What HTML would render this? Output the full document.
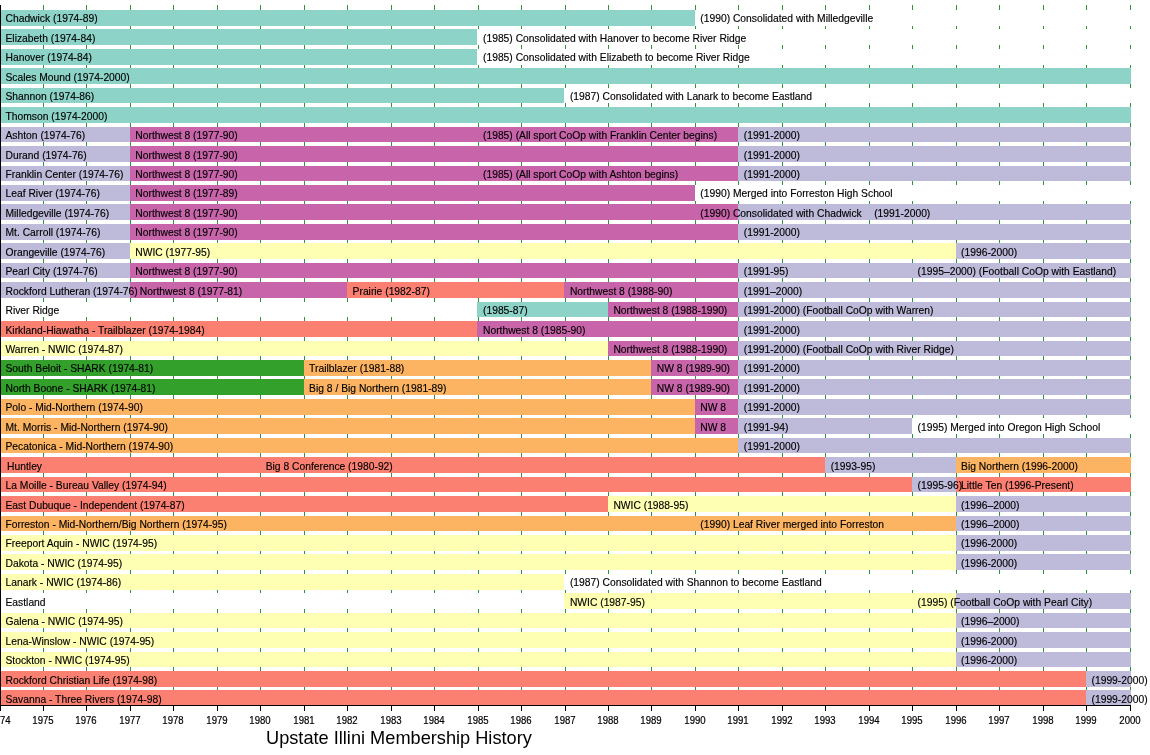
<!DOCTYPE html>
<html lang="en"><head><meta charset="utf-8"><title>Upstate Illini Membership History</title>
<style>
html,body{margin:0;padding:0;background:#fff}
#c{position:relative;width:1150px;height:755px;overflow:hidden;background:#fff;font-family:"Liberation Sans",sans-serif;color:#000}
#c div,#c span{position:absolute}
.g{top:5px;height:700px;width:1px;background:#2a9639}
.r{left:0;width:1131px;height:15.6px;background:#fff}
.b{top:0;height:100%}
.t,.m,.l,.y,.s,.o,.e{}
.t{background:#8dd3c7}.y{background:#ffffb3}.l{background:#bebada}.s{background:#fb8072}.o{background:#fdb462}.e{background:#33a02c}.m{background:#c864aa}
.x{-webkit-text-stroke:0.15px #000;height:15.6px;line-height:16.6px;font-size:10.3px;white-space:pre}
#tx{left:0;top:0;width:1150px;height:755px;will-change:transform}
.k{top:706px;width:1.25px;height:5px;background:#000}
.a{-webkit-text-stroke:0.2px #000;top:714px;width:40px;margin-left:-20px;text-align:center;font-size:10.35px;line-height:14px;transform:scaleX(.925)}
</style></head><body><div id="c">
<div class="g" style="left:43px"></div><div class="g" style="left:86px"></div><div class="g" style="left:130px"></div><div class="g" style="left:173px"></div><div class="g" style="left:217px"></div><div class="g" style="left:260px"></div><div class="g" style="left:304px"></div><div class="g" style="left:347px"></div><div class="g" style="left:391px"></div><div class="g" style="left:434px"></div><div class="g" style="left:478px"></div><div class="g" style="left:521px"></div><div class="g" style="left:565px"></div><div class="g" style="left:608px"></div><div class="g" style="left:651px"></div><div class="g" style="left:695px"></div><div class="g" style="left:738px"></div><div class="g" style="left:782px"></div><div class="g" style="left:825px"></div><div class="g" style="left:869px"></div><div class="g" style="left:912px"></div><div class="g" style="left:956px"></div><div class="g" style="left:999px"></div><div class="g" style="left:1043px"></div><div class="g" style="left:1086px"></div><div class="g" style="left:1130px"></div>
<div class="r" style="top:10.05px"><div class="b t" style="left:0.0px;width:694.7px"></div></div>
<div class="r" style="top:29.49px"><div class="b t" style="left:0.0px;width:477.4px"></div></div>
<div class="r" style="top:48.94px"><div class="b t" style="left:0.0px;width:477.4px"></div></div>
<div class="r" style="top:68.38px"><div class="b t" style="left:0.0px;width:1130.7px"></div></div>
<div class="r" style="top:87.83px"><div class="b t" style="left:0.0px;width:564.3px"></div></div>
<div class="r" style="top:107.27px"><div class="b t" style="left:0.0px;width:1130.7px"></div></div>
<div class="r" style="top:126.71px"><div class="b l" style="left:0.0px;width:130.7px"></div><div class="b m" style="left:129.7px;width:609.5px"></div><div class="b l" style="left:738.2px;width:392.6px"></div></div>
<div class="r" style="top:146.16px"><div class="b l" style="left:0.0px;width:130.7px"></div><div class="b m" style="left:129.7px;width:609.5px"></div><div class="b l" style="left:738.2px;width:392.6px"></div></div>
<div class="r" style="top:165.60px"><div class="b l" style="left:0.0px;width:130.7px"></div><div class="b m" style="left:129.7px;width:609.5px"></div><div class="b l" style="left:738.2px;width:392.6px"></div></div>
<div class="r" style="top:185.05px"><div class="b l" style="left:0.0px;width:130.7px"></div><div class="b m" style="left:129.7px;width:565.0px"></div></div>
<div class="r" style="top:204.49px"><div class="b l" style="left:0.0px;width:130.7px"></div><div class="b m" style="left:129.7px;width:609.5px"></div><div class="b l" style="left:738.2px;width:392.6px"></div></div>
<div class="r" style="top:223.93px"><div class="b l" style="left:0.0px;width:130.7px"></div><div class="b m" style="left:129.7px;width:609.5px"></div><div class="b l" style="left:738.2px;width:392.6px"></div></div>
<div class="r" style="top:243.38px"><div class="b l" style="left:0.0px;width:130.7px"></div><div class="b y" style="left:129.7px;width:826.8px"></div><div class="b l" style="left:955.5px;width:175.3px"></div></div>
<div class="r" style="top:262.82px"><div class="b l" style="left:0.0px;width:130.7px"></div><div class="b m" style="left:129.7px;width:609.5px"></div><div class="b l" style="left:738.2px;width:392.6px"></div></div>
<div class="r" style="top:282.27px"><div class="b l" style="left:0.0px;width:130.7px"></div><div class="b m" style="left:129.7px;width:218.3px"></div><div class="b s" style="left:347.0px;width:218.3px"></div><div class="b m" style="left:564.3px;width:174.9px"></div><div class="b l" style="left:738.2px;width:392.6px"></div></div>
<div class="r" style="top:301.71px"><div class="b t" style="left:477.4px;width:131.4px"></div><div class="b m" style="left:607.8px;width:131.4px"></div><div class="b l" style="left:738.2px;width:392.6px"></div></div>
<div class="r" style="top:321.15px"><div class="b s" style="left:0.0px;width:478.4px"></div><div class="b m" style="left:477.4px;width:261.8px"></div><div class="b l" style="left:738.2px;width:392.6px"></div></div>
<div class="r" style="top:340.60px"><div class="b y" style="left:0.0px;width:608.8px"></div><div class="b m" style="left:607.8px;width:131.4px"></div><div class="b l" style="left:738.2px;width:392.6px"></div></div>
<div class="r" style="top:360.04px"><div class="b e" style="left:0.0px;width:304.5px"></div><div class="b o" style="left:303.5px;width:348.7px"></div><div class="b m" style="left:651.2px;width:87.9px"></div><div class="b l" style="left:738.2px;width:392.6px"></div></div>
<div class="r" style="top:379.49px"><div class="b e" style="left:0.0px;width:304.5px"></div><div class="b o" style="left:303.5px;width:348.7px"></div><div class="b m" style="left:651.2px;width:87.9px"></div><div class="b l" style="left:738.2px;width:392.6px"></div></div>
<div class="r" style="top:398.93px"><div class="b o" style="left:0.0px;width:695.7px"></div><div class="b m" style="left:694.7px;width:44.5px"></div><div class="b l" style="left:738.2px;width:392.6px"></div></div>
<div class="r" style="top:418.37px"><div class="b o" style="left:0.0px;width:695.7px"></div><div class="b m" style="left:694.7px;width:44.5px"></div><div class="b l" style="left:738.2px;width:173.9px"></div></div>
<div class="r" style="top:437.82px"><div class="b o" style="left:0.0px;width:739.2px"></div><div class="b l" style="left:738.2px;width:392.6px"></div></div>
<div class="r" style="top:457.26px"><div class="b s" style="left:0.0px;width:826.1px"></div><div class="b l" style="left:825.1px;width:131.4px"></div><div class="b o" style="left:955.5px;width:175.3px"></div></div>
<div class="r" style="top:476.71px"><div class="b s" style="left:0.0px;width:913.0px"></div><div class="b l" style="left:912.0px;width:44.5px"></div><div class="b s" style="left:955.5px;width:175.3px"></div></div>
<div class="r" style="top:496.15px"><div class="b s" style="left:0.0px;width:608.8px"></div><div class="b y" style="left:607.8px;width:348.7px"></div><div class="b l" style="left:955.5px;width:175.3px"></div></div>
<div class="r" style="top:515.59px"><div class="b o" style="left:0.0px;width:956.5px"></div><div class="b l" style="left:955.5px;width:175.3px"></div></div>
<div class="r" style="top:535.04px"><div class="b y" style="left:0.0px;width:956.5px"></div><div class="b l" style="left:955.5px;width:175.3px"></div></div>
<div class="r" style="top:554.48px"><div class="b y" style="left:0.0px;width:956.5px"></div><div class="b l" style="left:955.5px;width:175.3px"></div></div>
<div class="r" style="top:573.93px"><div class="b y" style="left:0.0px;width:564.3px"></div></div>
<div class="r" style="top:593.37px"><div class="b y" style="left:564.3px;width:392.2px"></div><div class="b l" style="left:955.5px;width:175.3px"></div></div>
<div class="r" style="top:612.81px"><div class="b y" style="left:0.0px;width:956.5px"></div><div class="b l" style="left:955.5px;width:175.3px"></div></div>
<div class="r" style="top:632.26px"><div class="b y" style="left:0.0px;width:956.5px"></div><div class="b l" style="left:955.5px;width:175.3px"></div></div>
<div class="r" style="top:651.70px"><div class="b y" style="left:0.0px;width:956.5px"></div><div class="b l" style="left:955.5px;width:175.3px"></div></div>
<div class="r" style="top:671.15px"><div class="b s" style="left:0.0px;width:1086.9px"></div><div class="b l" style="left:1085.9px;width:44.9px"></div></div>
<div class="r" style="top:690.20px"><div class="b s" style="left:0.0px;width:1086.9px"></div><div class="b l" style="left:1085.9px;width:44.9px"></div></div>
<div style="left:0;top:5px;width:1.2px;height:706px;background:#000"></div><div style="left:0;top:705px;width:1131px;height:1px;background:#000"></div>
<div class="k" style="left:42.9px"></div><div class="k" style="left:85.9px"></div><div class="k" style="left:129.9px"></div><div class="k" style="left:172.9px"></div><div class="k" style="left:216.9px"></div><div class="k" style="left:259.9px"></div><div class="k" style="left:303.9px"></div><div class="k" style="left:346.9px"></div><div class="k" style="left:390.9px"></div><div class="k" style="left:433.9px"></div><div class="k" style="left:477.9px"></div><div class="k" style="left:520.9px"></div><div class="k" style="left:564.9px"></div><div class="k" style="left:607.9px"></div><div class="k" style="left:650.9px"></div><div class="k" style="left:694.9px"></div><div class="k" style="left:737.9px"></div><div class="k" style="left:781.9px"></div><div class="k" style="left:824.9px"></div><div class="k" style="left:868.9px"></div><div class="k" style="left:911.9px"></div><div class="k" style="left:955.9px"></div><div class="k" style="left:998.9px"></div><div class="k" style="left:1042.9px"></div><div class="k" style="left:1085.9px"></div><div class="k" style="left:1129.9px"></div>
<div id="tx">
<span class="x" style="left:5.5px;top:11.4px">Chadwick (1974-89)</span><span class="x" style="left:700.3px;top:11.4px">(1990) Consolidated with Milledgeville</span>
<span class="x" style="left:5.5px;top:31.4px">Elizabeth (1974-84)</span><span class="x" style="left:483.0px;top:31.4px">(1985) Consolidated with Hanover to become River Ridge</span>
<span class="x" style="left:5.5px;top:50.4px">Hanover (1974-84)</span><span class="x" style="left:483.0px;top:50.4px">(1985) Consolidated with Elizabeth to become River Ridge</span>
<span class="x" style="left:5.5px;top:70.4px">Scales Mound (1974-2000)</span>
<span class="x" style="left:5.5px;top:89.4px">Shannon (1974-86)</span><span class="x" style="left:569.9px;top:89.4px">(1987) Consolidated with Lanark to become Eastland</span>
<span class="x" style="left:5.5px;top:109.4px">Thomson (1974-2000)</span>
<span class="x" style="left:5.5px;top:128.4px">Ashton (1974-76)</span><span class="x" style="left:135.3px;top:128.4px">Northwest 8 (1977-90)</span><span class="x" style="left:483.0px;top:128.4px">(1985) (All sport CoOp with Franklin Center begins)</span><span class="x" style="left:743.8px;top:128.4px">(1991-2000)</span>
<span class="x" style="left:5.5px;top:148.4px">Durand (1974-76)</span><span class="x" style="left:135.3px;top:148.4px">Northwest 8 (1977-90)</span><span class="x" style="left:743.8px;top:148.4px">(1991-2000)</span>
<span class="x" style="left:5.5px;top:167.4px">Franklin Center (1974-76)</span><span class="x" style="left:135.3px;top:167.4px">Northwest 8 (1977-90)</span><span class="x" style="left:483.0px;top:167.4px">(1985) (All sport CoOp with Ashton begins)</span><span class="x" style="left:743.8px;top:167.4px">(1991-2000)</span>
<span class="x" style="left:5.5px;top:186.4px">Leaf River (1974-76)</span><span class="x" style="left:135.3px;top:186.4px">Northwest 8 (1977-89)</span><span class="x" style="left:700.3px;top:186.4px">(1990) Merged into Forreston High School</span>
<span class="x" style="left:5.5px;top:206.4px">Milledgeville (1974-76)</span><span class="x" style="left:135.3px;top:206.4px">Northwest 8 (1977-90)</span><span class="x" style="left:700.3px;top:206.4px">(1990) Consolidated with Chadwick</span><span class="x" style="left:874.2px;top:206.4px">(1991-2000)</span>
<span class="x" style="left:5.5px;top:225.4px">Mt. Carroll (1974-76)</span><span class="x" style="left:135.3px;top:225.4px">Northwest 8 (1977-90)</span><span class="x" style="left:743.8px;top:225.4px">(1991-2000)</span>
<span class="x" style="left:5.5px;top:245.4px">Orangeville (1974-76)</span><span class="x" style="left:135.3px;top:245.4px">NWIC (1977-95)</span><span class="x" style="left:961.1px;top:245.4px">(1996-2000)</span>
<span class="x" style="left:5.5px;top:264.4px">Pearl City (1974-76)</span><span class="x" style="left:135.3px;top:264.4px">Northwest 8 (1977-90)</span><span class="x" style="left:743.8px;top:264.4px">(1991-95)</span><span class="x" style="left:917.6px;top:264.4px">(1995–2000) (Football CoOp with Eastland)</span>
<span class="x" style="left:5.5px;top:284.4px">Rockford Lutheran (1974-76)</span><span class="x" style="left:139.8px;top:284.4px">Northwest 8 (1977-81)</span><span class="x" style="left:352.6px;top:284.4px">Prairie (1982-87)</span><span class="x" style="left:569.9px;top:284.4px">Northwest 8 (1988-90)</span><span class="x" style="left:743.8px;top:284.4px">(1991–2000)</span>
<span class="x" style="left:5.5px;top:303.4px">River Ridge</span><span class="x" style="left:483.0px;top:303.4px">(1985-87)</span><span class="x" style="left:613.4px;top:303.4px">Northwest 8 (1988-1990)</span><span class="x" style="left:743.8px;top:303.4px">(1991-2000) (Football CoOp with Warren)</span>
<span class="x" style="left:5.5px;top:323.4px">Kirkland-Hiawatha - Trailblazer (1974-1984)</span><span class="x" style="left:483.0px;top:323.4px">Northwest 8 (1985-90)</span><span class="x" style="left:743.8px;top:323.4px">(1991-2000)</span>
<span class="x" style="left:5.5px;top:342.4px">Warren - NWIC (1974-87)</span><span class="x" style="left:613.4px;top:342.4px">Northwest 8 (1988-1990)</span><span class="x" style="left:743.8px;top:342.4px">(1991-2000) (Football CoOp with River Ridge)</span>
<span class="x" style="left:5.5px;top:361.4px">South Beloit - SHARK (1974-81)</span><span class="x" style="left:309.1px;top:361.4px">Trailblazer (1981-88)</span><span class="x" style="left:656.8px;top:361.4px">NW 8 (1989-90)</span><span class="x" style="left:743.8px;top:361.4px">(1991-2000)</span>
<span class="x" style="left:5.5px;top:381.4px">North Boone - SHARK (1974-81)</span><span class="x" style="left:309.1px;top:381.4px">Big 8 / Big Northern (1981-89)</span><span class="x" style="left:656.8px;top:381.4px">NW 8 (1989-90)</span><span class="x" style="left:743.8px;top:381.4px">(1991-2000)</span>
<span class="x" style="left:5.5px;top:400.4px">Polo - Mid-Northern (1974-90)</span><span class="x" style="left:700.3px;top:400.4px">NW 8</span><span class="x" style="left:743.8px;top:400.4px">(1991-2000)</span>
<span class="x" style="left:5.5px;top:420.4px">Mt. Morris - Mid-Northern (1974-90)</span><span class="x" style="left:700.3px;top:420.4px">NW 8</span><span class="x" style="left:743.8px;top:420.4px">(1991-94)</span><span class="x" style="left:917.6px;top:420.4px">(1995) Merged into Oregon High School</span>
<span class="x" style="left:5.5px;top:439.4px">Pecatonica - Mid-Northern (1974-90)</span><span class="x" style="left:743.8px;top:439.4px">(1991-2000)</span>
<span class="x" style="left:7.1px;top:459.4px">Huntley</span><span class="x" style="left:265.7px;top:459.4px">Big 8 Conference (1980-92)</span><span class="x" style="left:830.7px;top:459.4px">(1993-95)</span><span class="x" style="left:961.1px;top:459.4px">Big Northern (1996-2000)</span>
<span class="x" style="left:5.5px;top:478.4px">La Moille - Bureau Valley (1974-94)</span><span class="x" style="left:917.6px;top:478.4px">(1995-96)</span><span class="x" style="left:961.1px;top:478.4px">Little Ten (1996-Present)</span>
<span class="x" style="left:5.5px;top:498.4px">East Dubuque - Independent (1974-87)</span><span class="x" style="left:613.4px;top:498.4px">NWIC (1988-95)</span><span class="x" style="left:961.1px;top:498.4px">(1996–2000)</span>
<span class="x" style="left:5.5px;top:517.4px">Forreston - Mid-Northern/Big Northern (1974-95)</span><span class="x" style="left:700.3px;top:517.4px">(1990) Leaf River merged into Forreston</span><span class="x" style="left:961.1px;top:517.4px">(1996–2000)</span>
<span class="x" style="left:5.5px;top:536.4px">Freeport Aquin - NWIC (1974-95)</span><span class="x" style="left:961.1px;top:536.4px">(1996-2000)</span>
<span class="x" style="left:5.5px;top:556.4px">Dakota - NWIC (1974-95)</span><span class="x" style="left:961.1px;top:556.4px">(1996-2000)</span>
<span class="x" style="left:5.5px;top:575.4px">Lanark - NWIC (1974-86)</span><span class="x" style="left:569.9px;top:575.4px">(1987) Consolidated with Shannon to become Eastland</span>
<span class="x" style="left:5.5px;top:595.4px">Eastland</span><span class="x" style="left:569.9px;top:595.4px">NWIC (1987-95)</span><span class="x" style="left:917.6px;top:595.4px">(1995) (Football CoOp with Pearl City)</span>
<span class="x" style="left:5.5px;top:614.4px">Galena - NWIC (1974-95)</span><span class="x" style="left:961.1px;top:614.4px">(1996–2000)</span>
<span class="x" style="left:5.5px;top:634.4px">Lena-Winslow - NWIC (1974-95)</span><span class="x" style="left:961.1px;top:634.4px">(1996-2000)</span>
<span class="x" style="left:5.5px;top:653.4px">Stockton - NWIC (1974-95)</span><span class="x" style="left:961.1px;top:653.4px">(1996-2000)</span>
<span class="x" style="left:5.5px;top:673.4px">Rockford Christian Life (1974-98)</span><span class="x" style="left:1091.5px;top:673.4px">(1999-2000)</span>
<span class="x" style="left:5.5px;top:692.4px">Savanna - Three Rivers (1974-98)</span><span class="x" style="left:1091.5px;top:692.4px">(1999-2000)</span>
<span class="a" style="left:0.1px">1974</span><span class="a" style="left:43.1px">1975</span><span class="a" style="left:86.1px">1976</span><span class="a" style="left:130.1px">1977</span><span class="a" style="left:173.1px">1978</span><span class="a" style="left:217.1px">1979</span><span class="a" style="left:260.1px">1980</span><span class="a" style="left:304.1px">1981</span><span class="a" style="left:347.1px">1982</span><span class="a" style="left:391.1px">1983</span><span class="a" style="left:434.1px">1984</span><span class="a" style="left:478.1px">1985</span><span class="a" style="left:521.1px">1986</span><span class="a" style="left:565.1px">1987</span><span class="a" style="left:608.1px">1988</span><span class="a" style="left:651.1px">1989</span><span class="a" style="left:695.1px">1990</span><span class="a" style="left:738.1px">1991</span><span class="a" style="left:782.1px">1992</span><span class="a" style="left:825.1px">1993</span><span class="a" style="left:869.1px">1994</span><span class="a" style="left:912.1px">1995</span><span class="a" style="left:956.1px">1996</span><span class="a" style="left:999.1px">1997</span><span class="a" style="left:1043.1px">1998</span><span class="a" style="left:1086.1px">1999</span><span class="a" style="left:1130.1px">2000</span>
<span style="left:266px;top:727px;font-size:18.2px;line-height:22px;white-space:pre">Upstate Illini Membership History</span>
</div>
</div></body></html>
